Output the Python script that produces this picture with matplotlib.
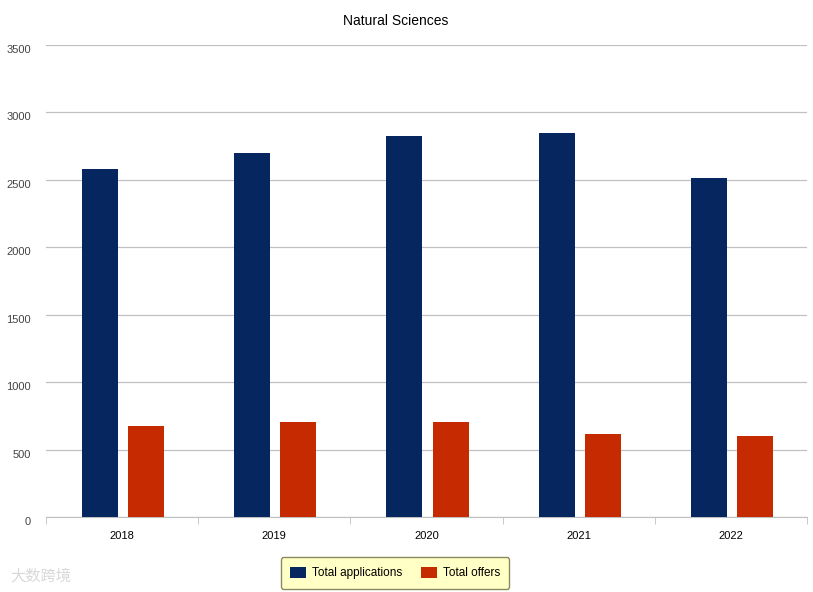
import numpy as np
import matplotlib
matplotlib.use("Agg")
import matplotlib.pyplot as plt

years = ["2018", "2019", "2020", "2021", "2022"]
applications = [2580, 2700, 2825, 2850, 2515]
offers = [675, 705, 705, 615, 600]

plt.rcParams['font.family'] = ['Liberation Sans', 'Noto Sans CJK SC', 'DejaVu Sans']

fig = plt.figure(figsize=(8.13, 5.92), dpi=100)
ax = fig.add_axes([46/813, 75/592, 761/813, 472/592])

x = np.arange(len(years))
w = 0.237
b1 = ax.bar(x - 0.145, applications, w, color='#06265f', label='Total applications', zorder=3)
b2 = ax.bar(x + 0.158, offers, w, color='#c52a00', label='Total offers', zorder=3)

ax.set_xlim(-0.5, len(years) - 0.5)
ax.set_ylim(0, 3500)
ax.set_yticks(range(0, 3501, 500))
ax.yaxis.grid(True, color='#c0c0c0', linewidth=0.9, zorder=0)
ax.tick_params(axis='y', length=0, labelsize=8, labelcolor='#444444', pad=11)
for lbl in ax.get_yticklabels():
    lbl.set_verticalalignment('top')
ax.set_xticks(x)
ax.set_xticklabels(years, fontsize=8)
ax.set_xticks(np.arange(-0.5, len(years), 1), minor=True)
ax.tick_params(axis='x', which='major', length=0, pad=10)
ax.tick_params(axis='x', which='minor', length=5, color='#c0c0c0')
for s in ['top', 'right', 'left']:
    ax.spines[s].set_visible(False)
ax.spines['bottom'].set_color('#c0c0c0')

fig.text(396/813, 1 - 21/592, "Natural Sciences", ha='center', va='center', fontsize=10)

leg = fig.legend(handles=[b1, b2], loc='center', bbox_to_anchor=(395/813, 1 - 573/592),
                 ncol=2, fontsize=8.5, frameon=True, fancybox=True, handlelength=1.4,
                 handleheight=1.1, handletextpad=0.45, columnspacing=1.6, borderpad=0.8)
leg.get_frame().set_facecolor('#ffffc6')
leg.get_frame().set_edgecolor('#8a8a60')
leg.get_frame().set_alpha(1)

fig.text(10/813, 1 - 576/592, "大数跨境", fontsize=11, color='#d8d8d8', va='center')

fig.savefig("out.png")
